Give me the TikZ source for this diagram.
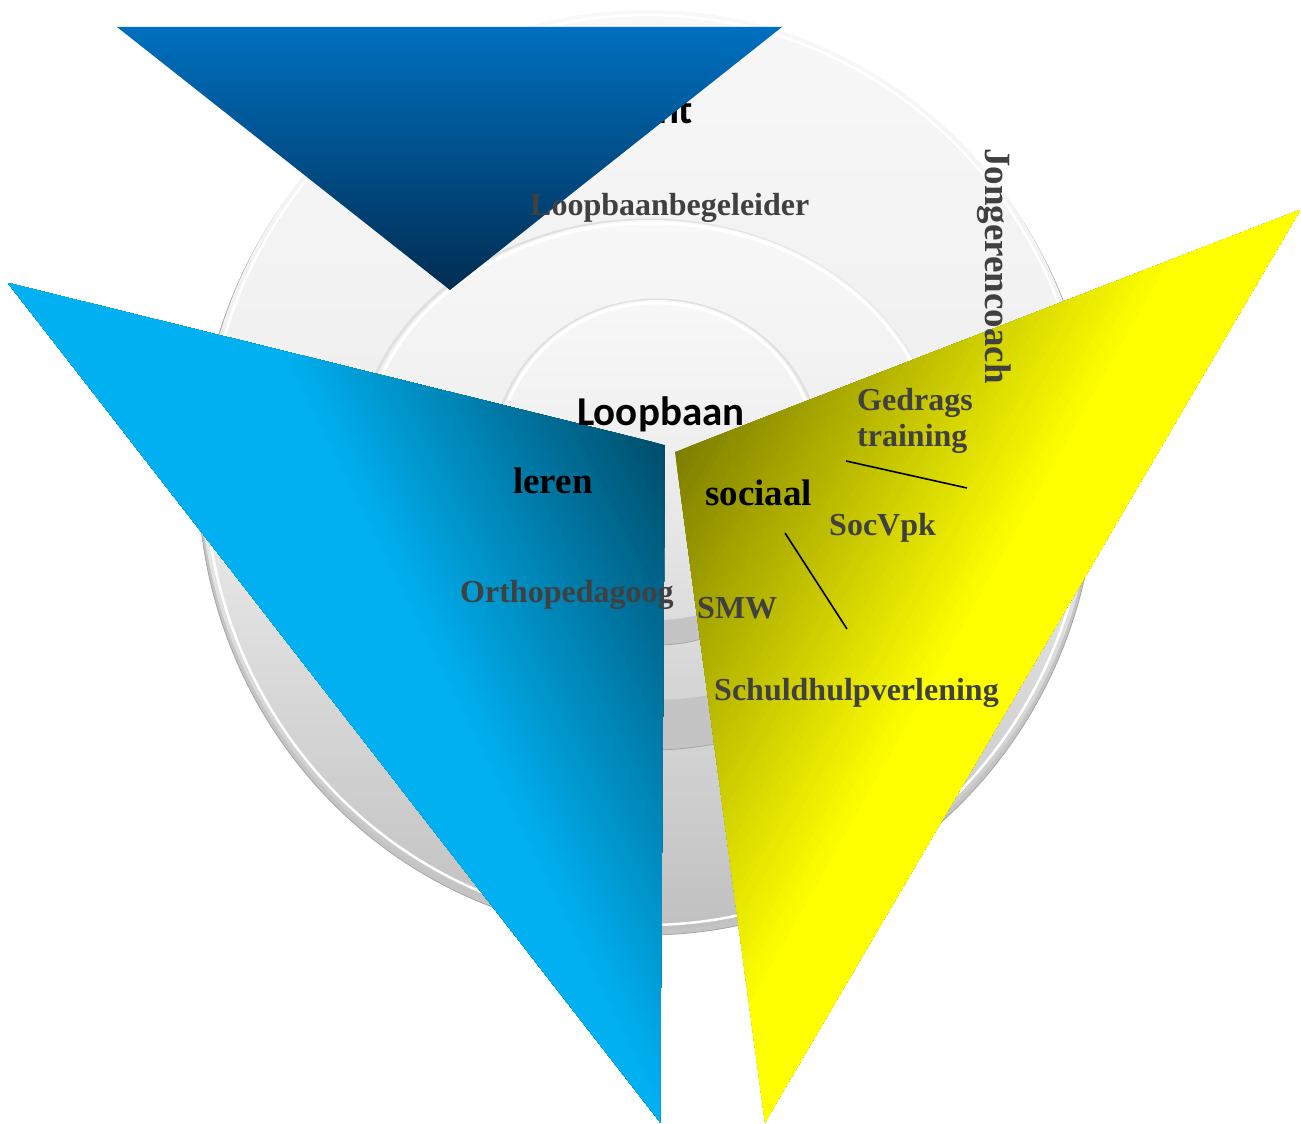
\documentclass[tikz,border=0pt]{standalone}
\usepackage{fontspec}
\setmainfont{Liberation Serif}
\newfontfamily\calfont{Carlito}
\usetikzlibrary{calc}
\definecolor{txtgray}{RGB}{64,64,64}
\definecolor{facetop}{RGB}{248,248,248}
\definecolor{facemid}{RGB}{238,238,238}
\definecolor{facebot}{RGB}{192,192,192}
\definecolor{sideg}{RGB}{196,196,196}
\definecolor{edgeg}{RGB}{165,165,165}
\definecolor{shadowg}{RGB}{224,224,224}
\definecolor{navytop}{RGB}{0,112,192}
\definecolor{navybot}{RGB}{0,45,82}
\definecolor{lbdark}{RGB}{0,78,108}
\definecolor{lblight}{RGB}{0,176,240}
\definecolor{ydark}{RGB}{126,126,0}
\definecolor{ylight}{RGB}{255,255,0}
\tikzset{
  graylbl/.style={font=\fontsize{32}{36}\selectfont\bfseries, text=txtgray, inner sep=0pt},
  blacklbl/.style={font=\fontsize{37}{40}\selectfont\bfseries, text=black, inner sep=0pt},
  callbl/.style={font=\calfont\fontsize{41}{44}\selectfont\bfseries, text=black, inner sep=0pt},
  sideface/.style={fill=sideg, draw=edgeg, line width=0.8pt},
  topface/.style={top color=facetop, bottom color=facebot, middle color=facemid},
  rim/.style={draw=white, line width=3pt},
  shadowrim/.style={draw=shadowg, line width=3pt},
  linker/.style={draw=black, line width=1.6pt}
}
\begin{document}
\begin{tikzpicture}[x=1pt,y=-1pt]
\useasboundingbox (0,0) rectangle (1301,1124);
\fill[white] (0,0) rectangle (1301,1124);

% ---- stacked disc (background) ----
% outer tier
\filldraw[sideface] (647,474) ellipse [x radius=449, y radius=461];
\shade[topface] (647,470) ellipse [x radius=447, y radius=460];
\draw[draw=white, line width=2.5pt] (647,470) ellipse [x radius=442, y radius=455];
% middle tier
\draw[shadowrim] (940,462) arc [start angle=0, end angle=-180, x radius=292, y radius=242];
\filldraw[sideface] (650,510) ellipse [x radius=290, y radius=240];
\fill[sideg] (360,460) rectangle (940,510);
\shade[top color=facetop, bottom color={rgb,255:red,212;green,212;blue,212}, middle color=facemid] (650,460) ellipse [x radius=290, y radius=240];
\draw[rim] (937,460) arc [start angle=0, end angle=-180, x radius=287, y radius=237];
% inner tier
\draw[shadowrim] (822,462) arc [start angle=0, end angle=-180, x radius=165, y radius=162];
\filldraw[sideface] (657,485) ellipse [x radius=163, y radius=160];
\fill[sideg] (494,460) rectangle (820,485);
\shade[top color=facetop, bottom color={rgb,255:red,220;green,220;blue,220}, middle color=facemid] (657,460) ellipse [x radius=163, y radius=160];
\draw[rim] (817,460) arc [start angle=0, end angle=-180, x radius=160, y radius=157];

% text hidden behind the top triangle
\node[callbl, anchor=base east] (student) at (693,123) {Student};

% ---- dark blue triangle (top) ----
\shade[top color=navytop, bottom color=navybot] (117,27) -- (782,27) -- (450,290) -- cycle;

% ---- light blue triangle (left) ----
\begin{scope}
\clip (8,283) -- (665,445) -- (660,1122) -- cycle;
\fill[lbdark] (0,0) rectangle (1301,1124);
\foreach \i in {1,...,60} {
  \pgfmathsetmacro\s{\i*5}
  \pgfmathtruncatemacro\p{round(100*\i/60)}
  \fill[lblight!\p!lbdark]
    ($(665,445)+\s*(-0.894,0.447)+1500*(0.447,0.894)$) --
    ($(665,445)+\s*(-0.894,0.447)-1500*(0.447,0.894)$) --
    ($(665,445)+1500*(-0.894,0.447)-1500*(0.447,0.894)$) --
    ($(665,445)+1500*(-0.894,0.447)+1500*(0.447,0.894)$) -- cycle;
}
\end{scope}

% ---- yellow triangle (right) ----
\begin{scope}
\clip (675,452) -- (1300,210) -- (765,1122) -- cycle;
\fill[ydark] (0,0) rectangle (1301,1124);
\foreach \i in {1,...,60} {
  \pgfmathsetmacro\s{\i*5.6}
  \pgfmathtruncatemacro\p{round(100*\i/60)}
  \fill[ylight!\p!ydark]
    ($(675,452)+\s*(0.871,0.491)+1500*(-0.491,0.871)$) --
    ($(675,452)+\s*(0.871,0.491)-1500*(-0.491,0.871)$) --
    ($(675,452)+1500*(0.871,0.491)-1500*(-0.491,0.871)$) --
    ($(675,452)+1500*(0.871,0.491)+1500*(-0.491,0.871)$) -- cycle;
}
\end{scope}

% ---- labels ----
\node[callbl, anchor=base west] (loopbaan) at (577,425) {Loopbaan};
\node[graylbl, anchor=base west] (lbb) at (530,215) {Loopbaanbegeleider};
\node[blacklbl, anchor=base west] (leren) at (513,493) {leren};
\node[blacklbl, anchor=base west] (sociaal) at (705,505) {sociaal};
\node[graylbl, anchor=base west] (ortho) at (460,602) {Orthopedagoog};
\node[graylbl, anchor=base west] (smw) at (697,618) {SMW};
\node[graylbl, anchor=base west] (socvpk) at (829,535) {SocVpk};
\node[graylbl, anchor=base west] (schuld) at (714,700) {Schuldhulpverlening};
\node[graylbl, anchor=north west, align=left] (gedrag) at (857,388) {Gedrags\\training};
\node[graylbl, font=\fontsize{37}{40}\selectfont\bfseries, rotate=-90, anchor=center] (jong) at (994,266) {Jongerencoach};

% ---- lines ----
\coordinate (l1a) at (846,461);
\coordinate (l1b) at (967,488);
\coordinate (l2a) at (785,533);
\coordinate (l2b) at (847,629);
\draw[linker] (l1a) -- (l1b);
\draw[linker] (l2a) -- (l2b);
\end{tikzpicture}
\end{document}
